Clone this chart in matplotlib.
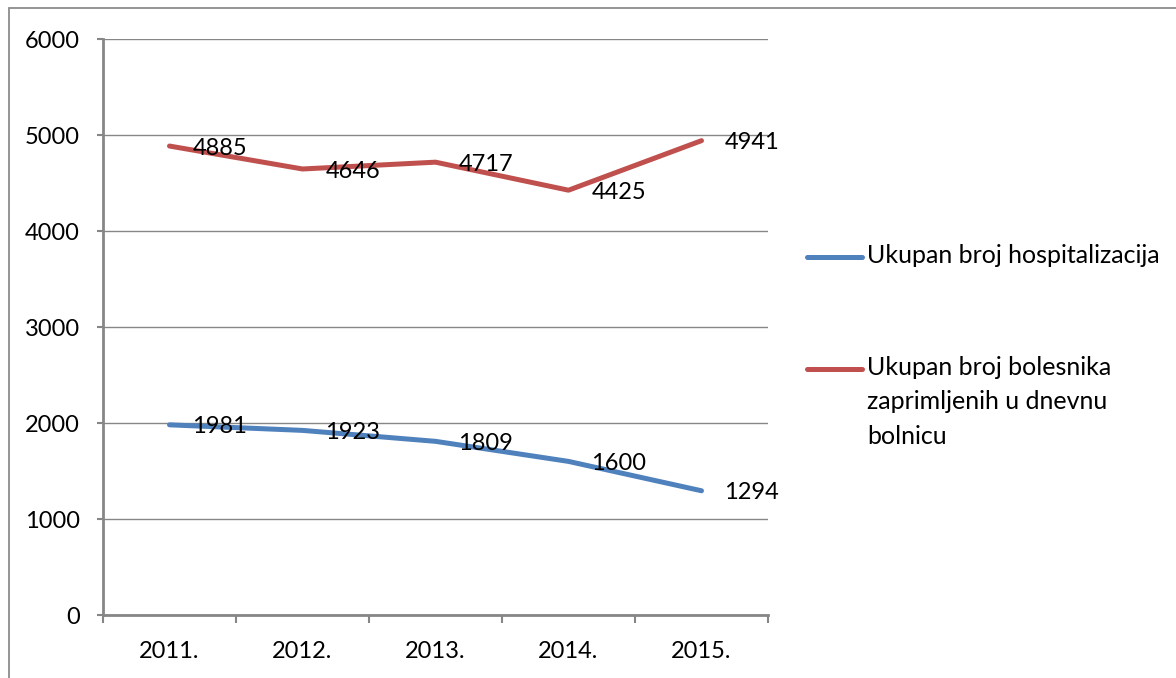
import matplotlib
matplotlib.use("Agg")
import matplotlib.pyplot as plt
from matplotlib.lines import Line2D
from matplotlib.patches import Rectangle

years = ["2011.", "2012.", "2013.", "2014.", "2015."]
hospitalizacije = [1981, 1923, 1809, 1600, 1294]
dnevna_bolnica = [4885, 4646, 4717, 4425, 4941]
series_names = ["Ukupan broj hospitalizacija",
                "Ukupan broj bolesnika\nzaprimljenih u dnevnu\nbolnicu"]
y_ticks = [0, 1000, 2000, 3000, 4000, 5000, 6000]

BLUE = "#4F81BD"
RED = "#C0504D"
GRAY = "#868686"
FONT = "Lato"
FS = 17

plt.rcParams['font.family'] = [FONT, 'DejaVu Sans']

W, H = 1176, 678
fig = plt.figure(figsize=(W / 100, H / 100), dpi=100)
fig.patch.set_facecolor("white")

# outer chart border
fig.add_artist(Rectangle((8.5 / W, -0.1), 1.2, (H - 8.5) / H + 0.1,
                         transform=fig.transFigure, fill=False,
                         edgecolor="#8c8c8c", lw=1.3))

ax = fig.add_axes([103 / W, (H - 615) / H, (768 - 103) / W, (615 - 39) / H])
x = list(range(len(years)))

ax.set_xlim(-0.5, len(years) - 0.5)
ax.set_ylim(0, 6000)
ax.set_yticks(y_ticks)
ax.set_yticklabels([str(v) for v in y_ticks], fontsize=FS)
ax.set_xticks([i - 0.5 for i in range(len(years) + 1)])
ax.set_xticklabels([])
ax.set_xticks(x, minor=True)
ax.set_xticklabels(years, minor=True, fontsize=FS)

ax.grid(axis="y", color=GRAY, lw=1.0)
ax.set_axisbelow(True)
for s in ["top", "right"]:
    ax.spines[s].set_visible(False)
for s in ["left", "bottom"]:
    ax.spines[s].set_color(GRAY)
    ax.spines[s].set_linewidth(2.0)
ax.tick_params(axis="y", which="major", direction="out", length=4.5,
               width=1.5, color=GRAY, pad=12)
ax.tick_params(axis="x", which="major", direction="out", length=6,
               width=1.5, color=GRAY)
ax.tick_params(axis="x", which="minor", length=0, pad=19)

for vals, col in [(hospitalizacije, BLUE), (dnevna_bolnica, RED)]:
    ax.plot(x, vals, color=col, lw=3.6, solid_capstyle="round",
            solid_joinstyle="round", clip_on=False, zorder=3)
    for xi, v in zip(x, vals):
        ax.annotate(str(v), (xi, v), xytext=(16.5, -1.5),
                    textcoords="offset points", ha="left", va="center",
                    fontsize=FS, color="black", zorder=4)

# legend (manual, Excel-style)
leg = [(BLUE, 257, series_names[0]), (RED, 369, series_names[1])]
for col, yc, name in leg:
    fig.add_artist(Line2D([807 / W, 862 / W], [(H - yc) / H] * 2,
                          transform=fig.transFigure, color=col, lw=3.6,
                          solid_capstyle="round"))
    fig.text(867 / W, (H - yc + 13) / H, name, ha="left", va="top",
             fontsize=18, linespacing=1.6)

fig.savefig("out.png", dpi=100, facecolor="white")
